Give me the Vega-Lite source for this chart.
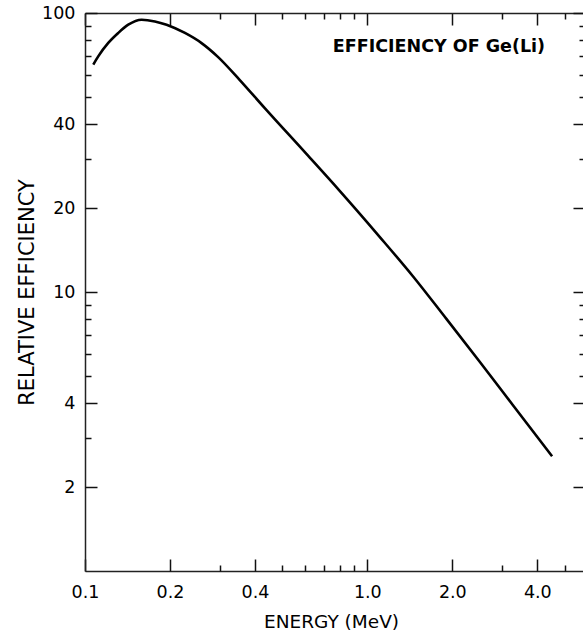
{
  "$schema": "https://vega.github.io/schema/vega-lite/v6.json",
  "width": 500,
  "height": 558,
  "autosize": "none",
  "padding": {"left": 85, "top": 13, "right": 0, "bottom": 59},
  "background": "white",
  "config": {
    "view": {"stroke": null},
    "font": "DejaVu Sans",
    "axis": {
      "grid": false,
      "domainColor": "#222",
      "domainWidth": 1.5,
      "tickColor": "#111",
      "tickWidth": 1.5,
      "labelColor": "#000",
      "labelFont": "DejaVu Sans",
      "labelFontSize": 17.5,
      "titleColor": "#000",
      "titleFont": "DejaVu Sans",
      "titleFontWeight": "normal"
    }
  },
  "datasets": {
    "curve": [
      {"energy": 0.107, "efficiency": 65.3},
      {"energy": 0.1114, "efficiency": 69.9},
      {"energy": 0.1209, "efficiency": 78.1},
      {"energy": 0.1311, "efficiency": 84.8},
      {"energy": 0.1423, "efficiency": 90.8},
      {"energy": 0.1587, "efficiency": 94.6},
      {"energy": 0.1768, "efficiency": 93.3},
      {"energy": 0.1945, "efficiency": 90.8},
      {"energy": 0.2259, "efficiency": 84.8},
      {"energy": 0.2587, "efficiency": 78.0},
      {"energy": 0.2962, "efficiency": 69.5},
      {"energy": 0.3534, "efficiency": 57.5},
      {"energy": 0.4332, "efficiency": 45.6},
      {"energy": 0.6084, "efficiency": 31.25},
      {"energy": 0.7981, "efficiency": 23.04},
      {"energy": 1.1054, "efficiency": 15.77},
      {"energy": 1.4499, "efficiency": 11.39},
      {"energy": 1.9026, "efficiency": 8.025},
      {"energy": 2.4962, "efficiency": 5.632},
      {"energy": 3.274, "efficiency": 3.936},
      {"energy": 4.511, "efficiency": 2.579}
    ],
    "note": [
      {"energy": 4.26, "efficiency": 72.7, "label": "EFFICIENCY OF Ge(Li)"}
    ]
  },
  "layer": [
    {
      "data": {"name": "curve"},
      "mark": {"type": "line", "color": "#000", "strokeWidth": 2.6, "interpolate": "monotone"},
      "encoding": {
        "x": {"field": "energy", "type": "quantitative",
          "scale": {"type": "log", "domain": [0.1, 5.9], "nice": false},
          "axis": {"orient": "bottom", "values": [0.1, 0.2, 0.4, 1, 2, 4], "labelExpr": "format(datum.value, '.1f')", "ticks": false, "tickSize": 0, "labelPadding": 12, "labelFlush": false, "labelOverlap": false, "domain": true, "title": "ENERGY (MeV)", "titleFontSize": 18.5, "titleX": 246, "titleY": 56, "titleBaseline": "alphabetic", "titleAlign": "center"}},
        "y": {"field": "efficiency", "type": "quantitative",
          "scale": {"type": "log", "domain": [1, 100], "nice": false},
          "axis": {"orient": "left", "values": [2, 4, 10, 20, 40, 100], "labelExpr": "format(datum.value, 'd')", "ticks": false, "tickSize": 0, "labelPadding": 10, "labelFlush": false, "labelOverlap": false, "labelBaseline": "middle", "domain": true, "title": "RELATIVE EFFICIENCY", "titleFontSize": 21, "titleAngle": -90, "titleX": -52, "titleY": 279, "titleBaseline": "alphabetic", "titleAlign": "center"}}
      }
    },
    {
      "data": {"name": "curve"},
      "mark": {"type": "line", "strokeOpacity": 0},
      "encoding": {
        "x": {"field": "energy", "type": "quantitative",
          "scale": {"type": "log", "domain": [0.1, 5.9], "nice": false},
          "axis": {"orient": "top", "offset": -558, "values": [0.1, 0.2, 0.4, 1, 2, 4], "labels": false, "domain": false, "tickSize": 12, "title": null}},
        "y": {"field": "efficiency", "type": "quantitative",
          "scale": {"type": "log", "domain": [1, 100], "nice": false},
          "axis": {"orient": "right", "offset": -500, "values": [2, 4, 10, 20, 40, 100], "labels": false, "domain": false, "tickSize": 12, "title": null}}
      }
    },
    {
      "data": {"name": "curve"},
      "mark": {"type": "line", "strokeOpacity": 0},
      "encoding": {
        "x": {"field": "energy", "type": "quantitative",
          "scale": {"type": "log", "domain": [0.1, 5.9], "nice": false},
          "axis": {"orient": "top", "offset": -558, "values": [0.3, 0.5, 0.6, 0.7, 0.8, 0.9, 3, 5], "labels": false, "domain": false, "tickSize": 6, "title": null}},
        "y": {"field": "efficiency", "type": "quantitative",
          "scale": {"type": "log", "domain": [1, 100], "nice": false},
          "axis": {"orient": "right", "offset": -500, "values": [3, 5, 6, 7, 8, 9, 30, 50, 60, 70, 80, 90], "labels": false, "domain": false, "tickSize": 6, "title": null}}
      }
    },
    {
      "data": {"name": "curve"},
      "mark": {"type": "line", "strokeOpacity": 0},
      "encoding": {
        "x": {"field": "energy", "type": "quantitative",
          "scale": {"type": "log", "domain": [0.1, 5.9], "nice": false},
          "axis": {"orient": "bottom", "offset": -558, "values": [0.1, 0.2, 0.4, 1, 2, 4], "labels": false, "domain": true, "tickSize": 12, "title": null}},
        "y": {"field": "efficiency", "type": "quantitative",
          "scale": {"type": "log", "domain": [1, 100], "nice": false},
          "axis": {"orient": "left", "offset": -500, "values": [2, 4, 10, 20, 40, 100], "labels": false, "domain": true, "tickSize": 12, "title": null}}
      }
    },
    {
      "data": {"name": "curve"},
      "mark": {"type": "line", "strokeOpacity": 0},
      "encoding": {
        "x": {"field": "energy", "type": "quantitative",
          "scale": {"type": "log", "domain": [0.1, 5.9], "nice": false},
          "axis": {"orient": "bottom", "offset": -558, "values": [0.3, 0.5, 0.6, 0.7, 0.8, 0.9, 3, 5], "labels": false, "domain": false, "tickSize": 6, "title": null}},
        "y": {"field": "efficiency", "type": "quantitative",
          "scale": {"type": "log", "domain": [1, 100], "nice": false},
          "axis": {"orient": "left", "offset": -500, "values": [3, 5, 6, 7, 8, 9, 30, 50, 60, 70, 80, 90], "labels": false, "domain": false, "tickSize": 6, "title": null}}
      }
    },
    {
      "data": {"name": "note"},
      "mark": {"type": "text", "align": "right", "baseline": "alphabetic", "font": "DejaVu Sans", "fontSize": 17.5, "fontWeight": "bold", "color": "#000"},
      "encoding": {
        "x": {"field": "energy", "type": "quantitative", "scale": {"type": "log", "domain": [0.1, 5.9], "nice": false}, "axis": null},
        "y": {"field": "efficiency", "type": "quantitative", "scale": {"type": "log", "domain": [1, 100], "nice": false}, "axis": null},
        "text": {"field": "label"}
      }
    }
  ],
  "resolve": {"axis": {"x": "independent", "y": "independent"}}
}
